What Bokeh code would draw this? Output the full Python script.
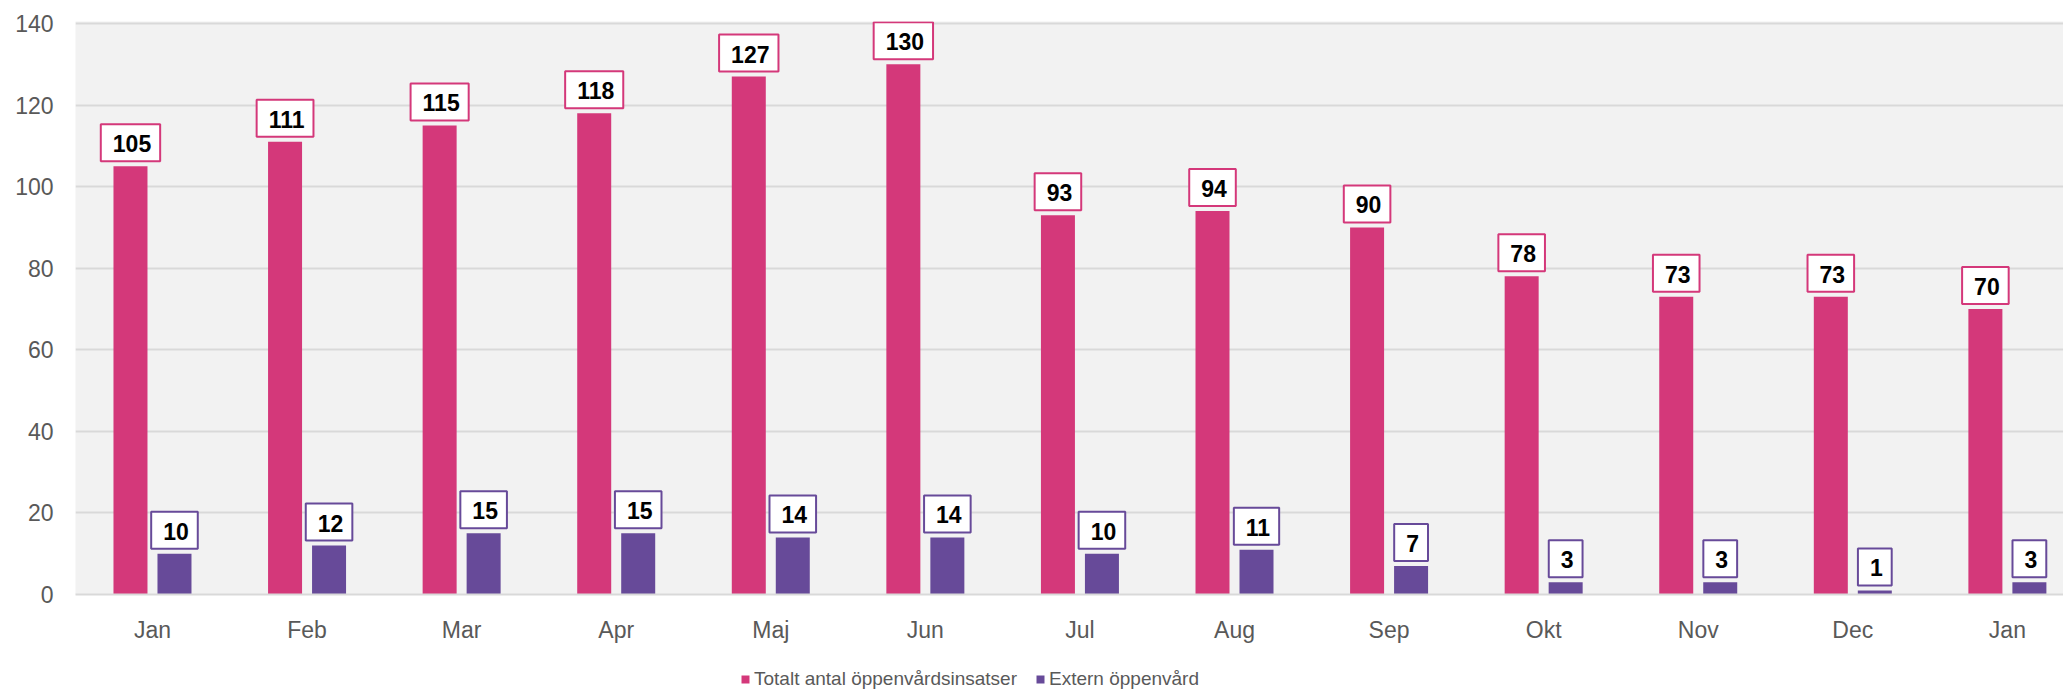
from bokeh.plotting import figure
from bokeh.layouts import column
from bokeh.models import ColumnDataSource, FixedTicker, Label, Legend, LegendItem
from bokeh.transform import dodge
from bokeh.embed import file_html
from bokeh.resources import INLINE

months = ["Jan", "Feb", "Mar", "Apr", "Maj", "Jun", "Jul", "Aug", "Sep", "Okt", "Nov", "Dec", "Jan"]
totalt = [105, 111, 115, 118, 127, 130, 93, 94, 90, 78, 73, 73, 70]
extern = [10, 12, 15, 15, 14, 14, 10, 11, 7, 3, 3, 1, 3]
series_names = ["Totalt antal öppenvårdsinsatser", "Extern öppenvård"]
y_ticks = [0, 20, 40, 60, 80, 100, 120, 140]

PINK = "#D4387A"
PURPLE = "#674A99"
FONT = "Liberation Sans"

src = ColumnDataSource(dict(
    x=list(range(len(months))),
    totalt=totalt,
    extern=extern,
))

p = figure(width=2063, height=645, output_backend="svg", toolbar_location=None,
           x_range=(-0.498, 12.363), y_range=(0, 140.49),
           min_border_top=21, min_border_left=75, min_border_right=0, min_border_bottom=46)
p.background_fill_color = "#F2F2F2"
p.border_fill_color = "white"
p.outline_line_color = None

off = 22 / 154.58
bw = 34 / 154.58
r1 = p.vbar(x=dodge("x", -off), top="totalt", width=bw, source=src, fill_color=PINK, line_color=None)
r2 = p.vbar(x=dodge("x", off), top="extern", width=bw, source=src, fill_color=PURPLE, line_color=None)

for vals, dx, c in [(totalt, -off, PINK), (extern, off, PURPLE)]:
    for i, v in enumerate(vals):
        p.add_layout(Label(x=i + dx, y=v, text=str(v), text_align="center",
                           text_baseline="bottom", y_offset=5, text_font=FONT,
                           text_font_size="23px", text_font_style="bold", text_color="black",
                           background_fill_color="white", border_line_color=c,
                           border_line_width=2, padding=(12, 9, 11, 9)))

p.yaxis.ticker = FixedTicker(ticks=y_ticks)
p.xaxis.ticker = FixedTicker(ticks=list(range(len(months))))
p.xaxis.major_label_overrides = {i: m for i, m in enumerate(months)}
for ax in (p.xaxis, p.yaxis):
    ax.major_tick_line_color = None
    ax.minor_tick_line_color = None
    ax.major_label_text_font = FONT
    ax.major_label_text_font_size = "23px"
    ax.major_label_text_color = "#595959"
p.yaxis.axis_line_color = None
p.yaxis.major_label_standoff = 16
p.xaxis.axis_line_color = "#D9D9D9"
p.xaxis.axis_line_width = 2
p.xaxis.major_label_standoff = 16
p.xgrid.grid_line_color = None
p.ygrid.grid_line_color = "#D9D9D9"
p.ygrid.grid_line_width = 2

# legend strip below the chart (its bars lie outside its own visible range)
lf = figure(width=2063, height=46, output_backend="svg", toolbar_location=None,
            x_range=(0, 1), y_range=(1000, 1001),
            x_axis_location=None, y_axis_location=None,
            min_border_top=0, min_border_left=0, min_border_right=0, min_border_bottom=0)
lf.grid.visible = False
lf.outline_line_color = None
lf.background_fill_color = "white"
lr1 = lf.vbar(x="x", top="totalt", width=0.1, source=src, fill_color=PINK, line_color=None)
lr2 = lf.vbar(x="x", top="extern", width=0.1, source=src, fill_color=PURPLE, line_color=None)
legend = Legend(items=[LegendItem(label=series_names[0], renderers=[lr1]),
                       LegendItem(label=series_names[1], renderers=[lr2])],
                orientation="horizontal", location=(665, 1),
                glyph_width=10, glyph_height=10, label_standoff=4, spacing=18,
                padding=0, margin=0, label_height=20,
                label_text_font=FONT, label_text_font_size="19px",
                label_text_color="#595959",
                border_line_color=None, background_fill_alpha=0)
lf.add_layout(legend, "center")

layout = column(p, lf, spacing=0)
open("out.html", "w").write(file_html(layout, INLINE))
